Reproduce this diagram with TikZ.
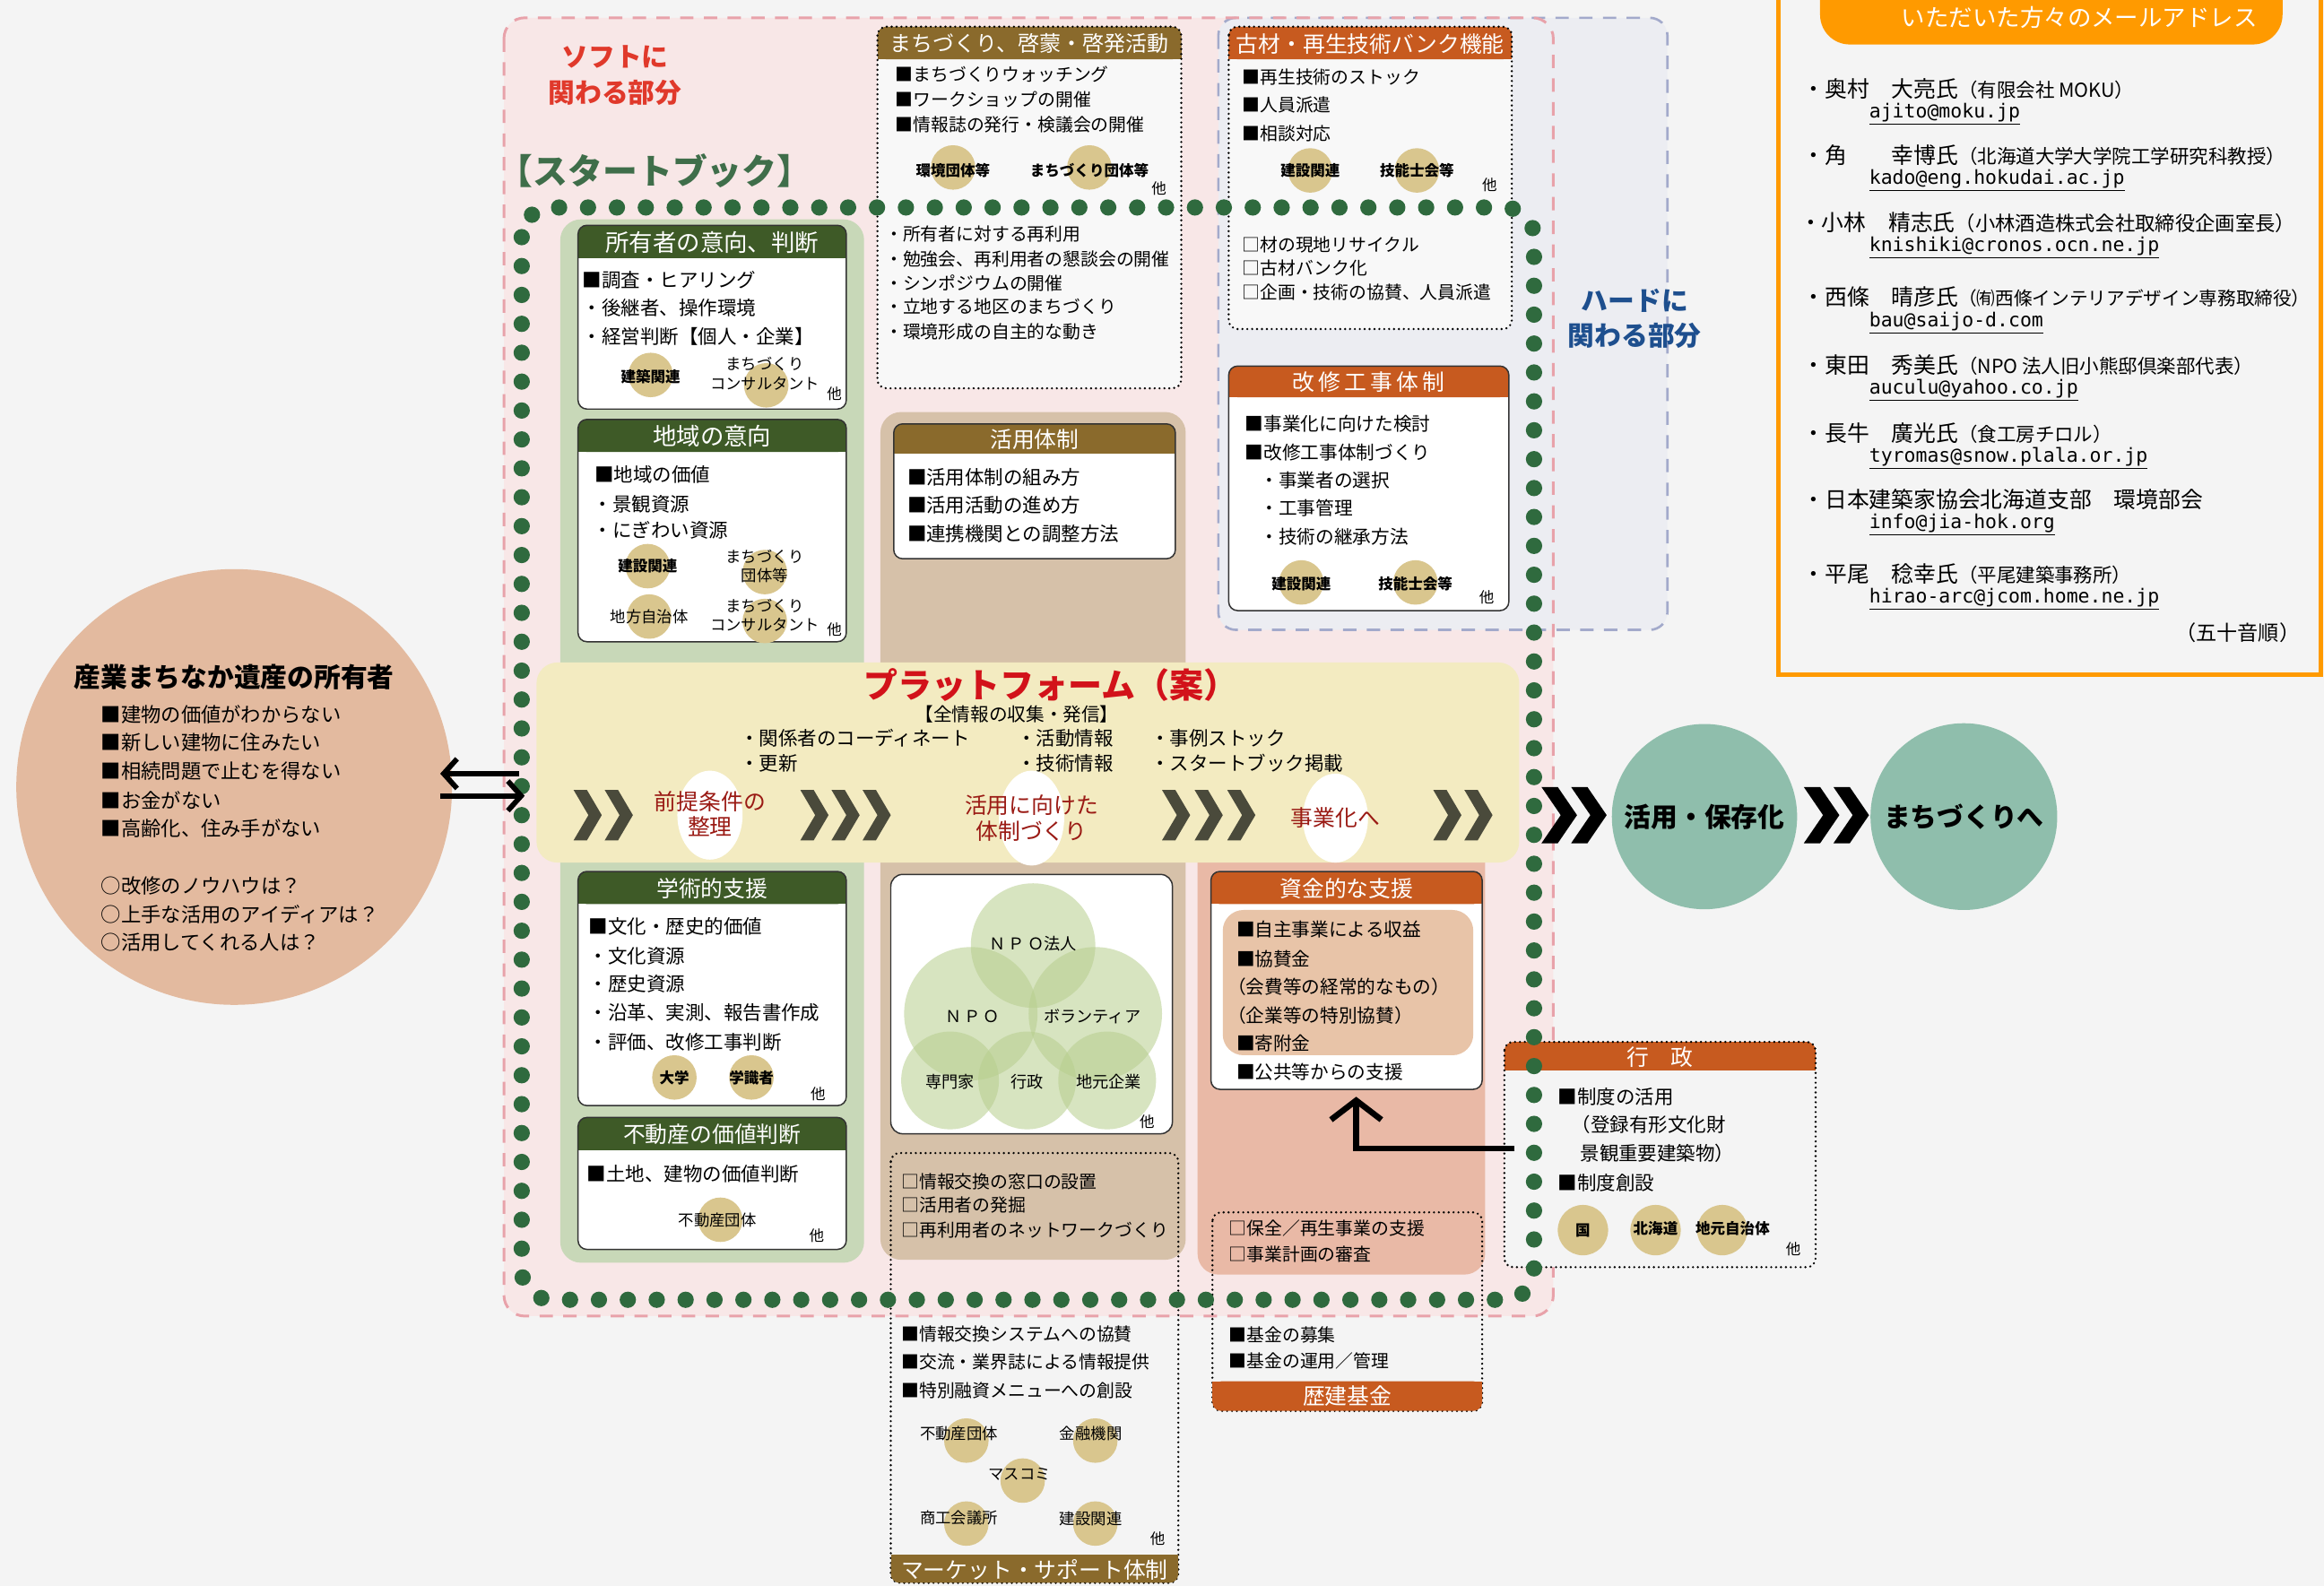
\documentclass[tikz,border=0pt]{standalone}
\usepackage{fontspec}
\setmainfont{Noto Sans CJK JP}
\newfontfamily\emailfont{DejaVu Sans Mono}
\usetikzlibrary{arrows.meta}
\newcommand\fsz[1]{\fontsize{#1}{#1}\selectfont}
\definecolor{bgc}{HTML}{F4F4F4}
\definecolor{pinkf}{HTML}{F8E7E7}
\definecolor{pinkd}{HTML}{E8A2AA}
\definecolor{bluef}{HTML}{ECEDF2}
\definecolor{blued}{HTML}{A3AACB}
\definecolor{dgreen}{HTML}{3E5A27}
\definecolor{lgreen}{HTML}{C8D8B8}
\definecolor{olive}{HTML}{8A6A2C}
\definecolor{lbrown}{HTML}{D6C1A9}
\definecolor{orng}{HTML}{C75A1F}
\definecolor{salmon}{HTML}{E9B9A6}
\definecolor{tanc}{HTML}{D9C68E}
\definecolor{platf}{HTML}{F3EBC1}
\definecolor{peach}{HTML}{E3BA9F}
\definecolor{tealc}{HTML}{8FBEAC}
\definecolor{dotg}{HTML}{2F6A3E}
\definecolor{softred}{HTML}{E0392B}
\definecolor{hardblue}{HTML}{1E4F8E}
\definecolor{sbgreen}{HTML}{3F6E4A}
\definecolor{platred}{HTML}{D2121A}
\definecolor{stepred}{HTML}{9A1A14}
\definecolor{chevc}{HTML}{4A4A3B}
\definecolor{boxw}{HTML}{F8F8F8}
\definecolor{vennc}{HTML}{B7CE8E}
\definecolor{innertan}{HTML}{E8C4A8}
\definecolor{mailorange}{HTML}{FF9A00}
\newcommand\hdrbox[9]{%
  \fill[white, rounded corners=6pt] (#2,#3) rectangle (#4,#5);
  \fill[#7, rounded corners=6pt] (#2,#3) rectangle (#4,#6);
  \fill[#7] (#2,#6-7) rectangle (#4,#6);
  \draw[rounded corners=6pt, line width=0.9pt, black!80] (#2,#3) rectangle (#4,#5);
  \node[hdr, font=\fsz{#8}] (#1) at ({(#2+#4)/2},{(#3+#6)/2+0.5}) {#9};}
\newcommand\chev[6]{%
  \fill[#6] (#1,#2-#3) -- (#1+#5,#2-#3) -- (#1+#5+#4,#2) -- (#1+#5,#2+#3) -- (#1,#2+#3) -- (#1+#4,#2) -- cycle;}
\begin{document}
\begin{tikzpicture}[x=1pt,y=-1pt,
  itm/.style={anchor=west, inner sep=0pt, font=\fsz{12}},
  itmb/.style={anchor=west, inner sep=0pt, font=\fsz{13}},
  hdr/.style={text=white, inner sep=0pt, font=\fsz{15}},
  clab/.style={inner sep=0pt, font=\bfseries\fontsize{10}{12.5}\selectfont, align=center},
  oth/.style={inner sep=0pt, font=\fsz{10}},
  dotbd/.style={draw=black, line width=1.6pt, dash pattern=on 0pt off 3.3pt, line cap=round, rounded corners=6pt},
  nm/.style={anchor=west, inner sep=0pt},
  em/.style={anchor=west, inner sep=0pt, font=\emailfont\fsz{13}}]
\clip (0,0) rectangle (1568,1070);
\fill[bgc] (0,0) rectangle (1568,1070);

% regions
\fill[pinkf, rounded corners=14pt] (340,12) rectangle (1048,888);
\fill[bluef, rounded corners=12pt] (822,12) rectangle (1125,425);
\draw[blued, line width=1.6pt, dash pattern=on 9pt off 7pt, rounded corners=12pt] (822,12) rectangle (1125,425);
\draw[pinkd, line width=1.8pt, dash pattern=on 9pt off 7pt, rounded corners=14pt] (340,12) rectangle (1048,888);

\node[text=softred, font=\bfseries\fontsize{18}{24}\selectfont, align=center, inner sep=0pt] (soft) at (415,51) {ソフトに\\関わる部分};
\node[text=hardblue, font=\bfseries\fontsize{18}{24}\selectfont, align=center, inner sep=0pt] (hard) at (1103,215) {ハードに\\関わる部分};
\node[text=sbgreen, font=\bfseries\fsz{23.5}, inner sep=0pt] (sbk) at (442,115) {【スタートブック】};

% panels
\fill[lgreen, rounded corners=14pt] (378,148) rectangle (583,852);
\fill[lbrown, rounded corners=14pt] (594,278) rectangle (800,850);
\fill[salmon, rounded corners=14pt] (808,560) rectangle (1002,860);

% machizukuri box
\fill[boxw, rounded corners=6pt] (592,18) rectangle (797,262);
\fill[olive, rounded corners=6pt] (592,18) rectangle (797,40);
\fill[olive] (592,33) rectangle (797,40);
\draw[dotbd] (592,18) rectangle (797,262);
\node[hdr, font=\fsz{14.5}] (mzh) at (694.5,29.5) {まちづくり、啓蒙・啓発活動};
\node[itm] (mz1) at (604,50) {■まちづくりウォッチング};
\node[itm] (mz2) at (604,67) {■ワークショップの開催};
\node[itm] (mz3) at (604,84) {■情報誌の発行・検議会の開催};
\fill[tanc] (643,113) circle[radius=15pt];
\fill[tanc] (735,113) circle[radius=15pt];
\node[clab] (mzc1) at (643,115) {環境団体等};
\node[clab] (mzc2) at (735,115) {まちづくり団体等};
\node[oth] (mzo) at (782,127) {他};
\node[itm] (mz4) at (597,158) {・所有者に対する再利用};
\node[itm] (mz5) at (597,175) {・勉強会、再利用者の懇談会の開催};
\node[itm] (mz6) at (597,191) {・シンポジウムの開催};
\node[itm] (mz7) at (597,207) {・立地する地区のまちづくり};
\node[itm] (mz8) at (597,224) {・環境形成の自主的な動き};

% kozai box
\fill[boxw, rounded corners=6pt] (829,18) rectangle (1020,222);
\fill[orng, rounded corners=6pt] (829,18) rectangle (1020,40);
\fill[orng] (829,33) rectangle (1020,40);
\draw[dotbd] (829,18) rectangle (1020,222);
\node[hdr] (kzh) at (924.5,29.5) {古材・再生技術バンク機能};
\node[itm] (kz1) at (838,52) {■再生技術のストック};
\node[itm] (kz2) at (838,71) {■人員派遣};
\node[itm] (kz3) at (838,90) {■相談対応};
\fill[tanc] (884,115) circle[radius=15pt];
\fill[tanc] (956,115) circle[radius=15pt];
\node[clab] (kzc1) at (884,115) {建設関連};
\node[clab] (kzc2) at (956,115) {技能士会等};
\node[oth] (kzo) at (1005,125) {他};
\node[itm] (kz4) at (838,165) {□材の現地リサイクル};
\node[itm] (kz5) at (838,181) {□古材バンク化};
\node[itm] (kz6) at (838,197) {□企画・技術の協賛、人員派遣};

% kaishu box
\hdrbox{ksh}{829}{247}{1018}{412}{268}{orng}{15}{改\,修\,工\,事\,体\,制}
\node[itm, font=\fsz{12.5}] (ks1) at (840,286) {■事業化に向けた検討};
\node[itm, font=\fsz{12.5}] (ks2) at (840,305) {■改修工事体制づくり};
\node[itm, font=\fsz{12.5}] (ks3) at (850,324) {・事業者の選択};
\node[itm, font=\fsz{12.5}] (ks4) at (850,343) {・工事管理};
\node[itm, font=\fsz{12.5}] (ks5) at (850,362) {・技術の継承方法};
\fill[tanc] (878,393) circle[radius=15pt];
\fill[tanc] (955,393) circle[radius=15pt];
\node[clab] (ksc1) at (878,394) {建設関連};
\node[clab] (ksc2) at (955,394) {技能士会等};
\node[oth] (kso) at (1003,403) {他};

% owner intention
\hdrbox{oih}{390}{152}{571}{276}{174}{dgreen}{16}{所有者の意向、判断}
\node[itmb] (oi1) at (393,189) {■調査・ヒアリング};
\node[itmb] (oi2) at (393,208) {・後継者、操作環境};
\node[itmb] (oi3) at (393,227) {・経営判断【個人・企業】};
\fill[tanc] (439,253) circle[radius=15pt];
\fill[tanc] (517,260) circle[radius=15pt];
\node[clab] (oic1) at (439,254) {建築関連};
\node[clab, font=\fontsize{10.5}{13}\selectfont] (oic2) at (516,252) {まちづくり\\コンサルタント};
\node[oth] (oio) at (563,266) {他};

% region intention
\hdrbox{rih}{390}{283}{571}{433}{305}{dgreen}{16}{地域の意向}
\node[itmb] (ri1) at (401,320) {■地域の価値};
\node[itmb] (ri2) at (400,340) {・景観資源};
\node[itmb] (ri3) at (400,358) {・にぎわい資源};
\fill[tanc] (437,382) circle[radius=15pt];
\fill[tanc] (516,386) circle[radius=15pt];
\fill[tanc] (438,416) circle[radius=15pt];
\fill[tanc] (516,419) circle[radius=15pt];
\node[clab] (ric1) at (437,382) {建設関連};
\node[clab, font=\fontsize{10.5}{13}\selectfont] (ric2) at (516,382) {まちづくり\\団体等};
\node[clab, font=\mdseries\fsz{10.5}] (ric3) at (438,416) {地方自治体};
\node[clab, font=\fontsize{10.5}{13}\selectfont] (ric4) at (516,415) {まちづくり\\コンサルタント};
\node[oth] (rio) at (563,425) {他};

% katsuyo taisei
\hdrbox{kth}{603}{286}{793}{377}{306}{olive}{15}{活用体制}
\node[itmb] (kt1) at (612,322) {■活用体制の組み方};
\node[itmb] (kt2) at (612,341) {■活用活動の進め方};
\node[itmb] (kt3) at (612,360) {■連携機関との調整方法};

% gakujutsu
\hdrbox{gkh}{390}{588}{571}{746}{610}{dgreen}{15}{学術的支援}
\node[itmb] (gk1) at (397,625) {■文化・歴史的価値};
\node[itmb] (gk2) at (397,645) {・文化資源};
\node[itmb] (gk3) at (397,664) {・歴史資源};
\node[itmb] (gk4) at (397,683) {・沿革、実測、報告書作成};
\node[itmb] (gk5) at (397,703) {・評価、改修工事判断};
\fill[tanc] (455,727) circle[radius=15pt];
\fill[tanc] (507,727) circle[radius=15pt];
\node[clab] (gkc1) at (455,727) {大学};
\node[clab] (gkc2) at (507,727) {学識者};
\node[oth] (gko) at (552,738) {他};

% fudosan
\hdrbox{fdh}{390}{754}{571}{843}{776}{dgreen}{15}{不動産の価値判断}
\node[itmb] (fd1) at (396,792) {■土地、建物の価値判断};
\fill[tanc] (486,823) circle[radius=15pt];
\node[clab, font=\mdseries\fsz{10.5}] (fdc1) at (484,823) {不動産団体};
\node[oth] (fdo) at (551,834) {他};

% venn box
\fill[white, rounded corners=8pt] (601,590) rectangle (791,765);
\begin{scope}
\clip[rounded corners=8pt] (601,590) rectangle (791,765);
\fill[vennc, opacity=0.55] (697,638) circle[radius=42pt];
\fill[vennc, opacity=0.55] (655,684) circle[radius=45pt];
\fill[vennc, opacity=0.55] (739,684) circle[radius=45pt];
\fill[vennc, opacity=0.55] (641,729) circle[radius=33pt];
\fill[vennc, opacity=0.55] (693,729) circle[radius=33pt];
\fill[vennc, opacity=0.55] (747,729) circle[radius=33pt];
\end{scope}
\draw[rounded corners=8pt, line width=0.9pt, black!80] (601,590) rectangle (791,765);
\node[clab, font=\fsz{11}] (v1) at (697,637) {Ｎ\,Ｐ\,Ｏ法人};
\node[clab, font=\fsz{11}] (v2) at (656,686) {Ｎ\,Ｐ\,Ｏ};
\node[clab, font=\fsz{11}] (v3) at (737,686) {ボランティア};
\node[clab, font=\fsz{11}] (v4) at (641,730) {専門家};
\node[clab, font=\fsz{11}] (v5) at (693,730) {行政};
\node[clab, font=\fsz{11}] (v6) at (748,730) {地元企業};
\node[oth] (vo) at (774,757) {他};

% market support box
\draw[dotbd] (601,778) rectangle (795,1068);
\node[itm] (mk1) at (608,797) {□情報交換の窓口の設置};
\node[itm] (mk2) at (608,813) {□活用者の発掘};
\node[itm] (mk3) at (608,830) {□再利用者のネットワークづくり};
\node[itm] (mk4) at (608,900) {■情報交換システムへの協賛};
\node[itm] (mk5) at (608,919) {■交流・業界誌による情報提供};
\node[itm] (mk6) at (608,938) {■特別融資メニューへの創設};
\fill[tanc] (652,972) circle[radius=15pt];
\fill[tanc] (739,972) circle[radius=15pt];
\fill[tanc] (690,999) circle[radius=15pt];
\fill[tanc] (652,1028) circle[radius=15pt];
\fill[tanc] (739,1028) circle[radius=15pt];
\node[clab, font=\mdseries\fsz{10.5}] (mkc1) at (647,967) {不動産団体};
\node[clab, font=\mdseries\fsz{10.5}] (mkc2) at (736,967) {金融機関};
\node[clab, font=\mdseries\fsz{10.5}] (mkc3) at (688,995) {マスコミ};
\node[clab, font=\mdseries\fsz{10.5}] (mkc4) at (647,1024) {商工会議所};
\node[clab, font=\mdseries\fsz{10.5}] (mkc5) at (736,1025) {建設関連};
\node[oth] (mko) at (781,1038) {他};
\fill[olive, rounded corners=6pt] (601,1049) rectangle (795,1068);
\fill[olive] (601,1049) rectangle (795,1056);
\node[hdr] (mkh) at (698,1059) {マーケット・サポート体制};

% shikin
\hdrbox{skh}{817}{588}{1000}{735}{610}{orng}{15}{資金的な支援}
\fill[innertan, rounded corners=14pt] (825,614) rectangle (994,712);
\node[itm, font=\fsz{12.5}] (sk1) at (834,627) {■自主事業による収益};
\node[itm, font=\fsz{12.5}] (sk2) at (834,647) {■協賛金};
\node[itm, font=\fsz{12.5}] (sk3) at (828,666) {（会費等の経常的なもの）};
\node[itm, font=\fsz{12.5}] (sk4) at (828,685) {（企業等の特別協賛）};
\node[itm, font=\fsz{12.5}] (sk5) at (834,704) {■寄附金};
\node[itm, font=\fsz{12.5}] (sk6) at (834,723) {■公共等からの支援};

% rekiken kikin
\draw[dotbd] (818,818) rectangle (1000,952);
\node[itm] (rk1) at (829,829) {□保全／再生事業の支援};
\node[itm] (rk2) at (829,846) {□事業計画の審査};
\node[itm] (rk3) at (829,901) {■基金の募集};
\node[itm] (rk4) at (829,918) {■基金の運用／管理};
\fill[orng, rounded corners=6pt] (818,932) rectangle (1000,952);
\fill[orng] (818,932) rectangle (1000,940);
\node[hdr] (rkh) at (909,942) {歴建基金};

% platform
\node[fill=platf, rounded corners=14pt, minimum width=663pt, minimum height=135pt, inner sep=0pt] (plat) at (693.5,514.5) {};
\node[text=platred, font=\bfseries\fsz{23}, inner sep=0pt] (ptitle) at (709,462) {プラットフォーム（案）};
\node[inner sep=0pt, font=\fsz{12.5}] (psub) at (686,482) {【全情報の収集・発信】};
\node[itmb] (p1) at (499,498) {・関係者のコーディネート};
\node[itmb] (p2) at (499,515) {・更新};
\node[itmb] (p3) at (686,498) {・活動情報};
\node[itmb] (p4) at (686,515) {・技術情報};
\node[itmb] (p5) at (776,498) {・事例ストック};
\node[itmb] (p6) at (776,515) {・スタートブック掲載};
\fill[white] (479,550) ellipse[x radius=22pt, y radius=30pt];
\fill[white] (696,552) ellipse[x radius=22pt, y radius=32pt];
\fill[white] (901,552) ellipse[x radius=22pt, y radius=30pt];
\node[text=stepred, font=\fontsize{15}{17}\selectfont, align=center, inner sep=0pt] (s1) at (479,549) {前提条件の\\整理};
\node[text=stepred, font=\fontsize{15}{17}\selectfont, align=center, inner sep=0pt] (s2) at (696,552) {活用に向けた\\体制づくり};
\node[text=stepred, font=\fsz{15}, inner sep=0pt] (s3) at (901,552) {事業化へ};
\chev{387}{550}{17}{10}{9}{chevc}
\chev{408}{550}{17}{10}{9}{chevc}
\chev{540}{550}{17}{10}{9}{chevc}
\chev{561}{550}{17}{10}{9}{chevc}
\chev{582}{550}{17}{10}{9}{chevc}
\chev{784}{550}{17}{10}{9}{chevc}
\chev{806}{550}{17}{10}{9}{chevc}
\chev{828}{550}{17}{10}{9}{chevc}
\chev{967}{550}{17}{10}{9}{chevc}
\chev{988}{550}{17}{10}{9}{chevc}

% gyosei box
\fill[bgc, rounded corners=6pt] (1015,703) rectangle (1225,855);
\fill[orng, rounded corners=6pt] (1015,703) rectangle (1225,722);
\fill[orng] (1015,715) rectangle (1225,722);
\draw[dotbd] (1015,703) rectangle (1225,855);
\node[hdr] (gyh) at (1120,713) {行　政};
\node[itmb] (gy1) at (1051,740) {■制度の活用};
\node[itmb] (gy2) at (1060,759) {（登録有形文化財};
\node[itmb] (gy3) at (1066,778) {景観重要建築物）};
\node[itmb] (gy4) at (1051,798) {■制度創設};
\fill[tanc] (1068,830) circle[radius=17pt];
\fill[tanc] (1117,830) circle[radius=17pt];
\fill[tanc] (1162,830) circle[radius=17pt];
\node[clab] (gyc1) at (1068,830) {国};
\node[clab] (gyc2) at (1117,829) {北海道};
\node[clab] (gyc3) at (1169,829) {地元自治体};
\node[oth] (gyo) at (1210,843) {他};

% government -> funding arrow
\coordinate (ga) at (1022,775);
\coordinate (gb) at (915,740);
\draw[line width=4pt, -{Straight Barb[length=13pt,width=34pt]}] (ga) -| (gb);

% green dotted start book boundary
\draw[dotg, line width=11pt, line cap=round, dash pattern=on 0pt off 19.5pt, rounded corners=20pt] (352,140) rectangle (1035,877);

% owner circle
\node[circle, fill=peach, minimum size=294pt, inner sep=0pt] (owner) at (158,531) {};
\node[font=\bfseries\fsz{18}, inner sep=0pt] (ownt) at (158,457) {産業まちなか遺産の所有者};
\node[itm, font=\fsz{13.5}] (o1) at (68,482) {■建物の価値がわからない};
\node[itm, font=\fsz{13.5}] (o2) at (68,501) {■新しい建物に住みたい};
\node[itm, font=\fsz{13.5}] (o3) at (68,520) {■相続問題で止むを得ない};
\node[itm, font=\fsz{13.5}] (o4) at (68,540) {■お金がない};
\node[itm, font=\fsz{13.5}] (o5) at (68,559) {■高齢化、住み手がない};
\node[itm, font=\fsz{13.5}] (o6) at (68,598) {○改修のノウハウは？};
\node[itm, font=\fsz{13.5}] (o7) at (68,617) {○上手な活用のアイディアは？};
\node[itm, font=\fsz{13.5}] (o8) at (68,636) {○活用してくれる人は？};

% double arrows
\coordinate (dl1) at (350,522); \coordinate (dl2) at (297,522);
\coordinate (dr1) at (297,537); \coordinate (dr2) at (354,537);
\draw[line width=3.5pt, -{Straight Barb[length=9pt,width=20pt]}] (dl1) -- (dl2);
\draw[line width=3.5pt, -{Straight Barb[length=9pt,width=20pt]}] (dr1) -- (dr2);

% outcome circles
\chev{1040}{550}{19}{13}{11}{black}
\chev{1060}{550}{19}{13}{11}{black}
\node[circle, fill=tealc, minimum size=125pt, inner sep=0pt, font=\bfseries\fsz{18}] (hozon) at (1150,551) {活用・保存化};
\chev{1217}{550}{19}{13}{11}{black}
\chev{1237}{550}{19}{13}{11}{black}
\node[circle, fill=tealc, minimum size=126pt, inner sep=0pt, font=\bfseries\fsz{18}] (machi) at (1325,551) {まちづくりへ};

% email box
\draw[mailorange, line width=3pt, fill=bgc] (1200,-5) rectangle (1566,455);
\fill[mailorange, rounded corners=20pt] (1228,-30) rectangle (1540,30);
\node[text=white, font=\fsz{16}, inner sep=0pt] (mailh) at (1403,12) {いただいた方々のメールアドレス};
\node[nm] (n1) at (1216,60) {\fsz{15}・奥村　大亮氏\fsz{13}（有限会社 MOKU）};
\node[em] (e1) at (1261,77) {\underline{ajito@moku.jp}};
\node[nm] (n2) at (1216,105) {\fsz{15}・角　　幸博氏\fsz{13}（北海道大学大学院工学研究科教授）};
\node[em] (e2) at (1261,122) {\underline{kado@eng.hokudai.ac.jp}};
\node[nm] (n3) at (1214,150) {\fsz{15}・小林　精志氏\fsz{13.5}（小林酒造株式会社取締役企画室長）};
\node[em] (e3) at (1261,167) {\underline{knishiki@cronos.ocn.ne.jp}};
\node[nm] (n4) at (1216,200) {\fsz{15}・西條　晴彦氏\fsz{12.5}（㈲西條インテリアデザイン専務取締役）};
\node[em] (e4) at (1261,218) {\underline{bau@saijo-d.com}};
\node[nm] (n5) at (1216,246) {\fsz{15}・東田　秀美氏\fsz{13}（NPO 法人旧小熊邸倶楽部代表）};
\node[em] (e5) at (1261,263) {\underline{auculu@yahoo.co.jp}};
\node[nm] (n6) at (1216,292) {\fsz{15}・長牛　廣光氏\fsz{13}（食工房チロル）};
\node[em] (e6) at (1261,309) {\underline{tyromas@snow.plala.or.jp}};
\node[nm] (n7) at (1216,337) {\fsz{15}・日本建築家協会北海道支部　環境部会};
\node[em] (e7) at (1261,354) {\underline{info@jia-hok.org}};
\node[nm] (n8) at (1216,387) {\fsz{15}・平尾　稔幸氏\fsz{13}（平尾建築事務所）};
\node[em] (e8) at (1261,404) {\underline{hirao-arc@jcom.home.ne.jp}};
\node[inner sep=0pt, anchor=east, font=\fsz{14}] (n9) at (1552,427) {（五十音順）};
\end{tikzpicture}
\end{document}
